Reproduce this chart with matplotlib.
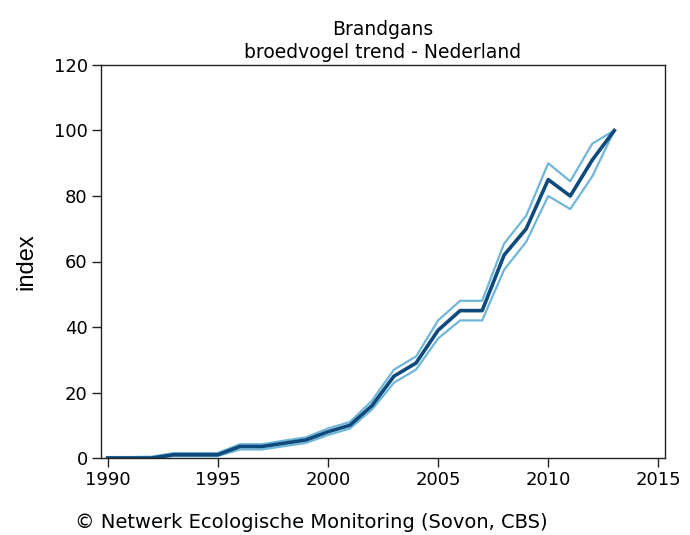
import matplotlib.pyplot as plt

years = list(range(1990, 2014))
index = [0, 0, 0, 1, 1, 1, 3.5, 3.5, 4.5, 5.5, 8, 10, 16, 25, 29, 39, 45, 45, 62, 70, 85, 80, 91, 100]
upper = [0.3, 0.3, 0.4, 1.5, 1.5, 1.5, 4.2, 4.2, 5.3, 6.3, 9, 11, 17.5, 27, 31, 42, 48, 48, 65.5, 74, 90, 84.5, 96, 100]
lower = [0, 0, 0, 0.6, 0.6, 0.6, 2.6, 2.6, 3.6, 4.6, 7, 9, 14.8, 23, 27, 36.5, 42, 42, 57.5, 66, 80, 76, 86, 100]

fig = plt.figure(figsize=(6.9, 5.35), dpi=100)
ax = fig.add_axes([101 / 690, 77 / 535, 564 / 690, 393 / 535])

band_col = '#6fb6d8'
main_col = '#0f4a7c'
ax.plot(years, upper, color=band_col, lw=1.6)
ax.plot(years, lower, color=band_col, lw=1.6)
ax.plot(years, index, color=main_col, lw=2.6)

ax.set_xlim(1989.7, 2015.3)
ax.set_ylim(0, 120)
ax.set_xticks([1990, 1995, 2000, 2005, 2010, 2015])
ax.set_yticks([0, 20, 40, 60, 80, 100, 120])
ax.tick_params(labelsize=13, length=6.5, width=1, color='#222222', pad=3)
for s in ax.spines.values():
    s.set_linewidth(1)
    s.set_color('#222222')

ax.set_ylabel('index', fontsize=17, family='Liberation Sans', labelpad=12)
ax.set_title('Brandgans\nbroedvogel trend - Nederland', fontsize=13.5, pad=5, linespacing=1.25)
fig.text(75 / 690, 1 - 523 / 535, '\u00a9 Netwerk Ecologische Monitoring (Sovon, CBS)',
         fontsize=14, va='center', ha='left')

fig.savefig('out.png', dpi=100)
